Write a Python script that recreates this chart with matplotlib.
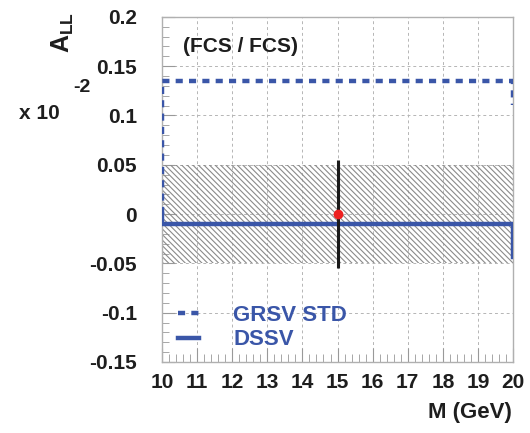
import matplotlib
matplotlib.use("Agg")
import matplotlib.pyplot as plt
from matplotlib.ticker import MultipleLocator
from matplotlib.lines import Line2D

plt.rcParams['font.family'] = ['Liberation Sans', 'DejaVu Sans']
plt.rcParams['font.weight'] = 'bold'
plt.rcParams['mathtext.default'] = 'regular'
plt.rcParams['hatch.linewidth'] = 0.8
plt.rcParams['hatch.color'] = '#8a8a8a'

# Data
bin_edges = [10, 20]
grsv_x = [10, 10, 20, 20]
grsv_y = [0.0, 0.135, 0.135, 0.111]
dssv_x = [10, 10, 20, 20]
dssv_y = [0.0, -0.01, -0.01, -0.044]
band_low, band_high = -0.05, 0.05
point_x = [15]
point_y = [0.0]
point_err = [0.055]
xticks = list(range(10, 21))
yticks = [-0.15, -0.1, -0.05, 0, 0.05, 0.1, 0.15, 0.2]
ytick_labels = ['-0.15', '-0.1', '-0.05', '0', '0.05', '0.1', '0.15', '0.2']

blue = '#3a56a8'

fig = plt.figure(figsize=(5.3, 4.33), dpi=100)
ax = fig.add_axes([0.3057, 0.164, 0.6623, 0.797])

ax.set_xlim(10, 20)
ax.set_ylim(-0.15, 0.2)

# hatched band
ax.fill_between(bin_edges, [band_low]*2, [band_high]*2, facecolor='none',
                edgecolor='#8a8a8a', hatch='\\\\\\\\\\\\', linewidth=0, zorder=1)

ax.plot(grsv_x, grsv_y, color=blue, lw=3.2, linestyle=(0, (1.6, 1.4)), zorder=3,
        dash_capstyle='butt')
ax.plot(dssv_x, dssv_y, color=blue, lw=3.2, zorder=3)

ax.errorbar(point_x, point_y, yerr=point_err, fmt='none', ecolor='#1a1a1a',
            elinewidth=2.2, capsize=0, zorder=4)
ax.plot(point_x, point_y, 'o', color='#ee2222', ms=6, zorder=5)

# ticks
ax.set_xticks(xticks)
ax.set_yticks(yticks)
ax.set_yticklabels(ytick_labels)
ax.xaxis.set_minor_locator(MultipleLocator(0.2))
ax.yaxis.set_minor_locator(MultipleLocator(0.01))
ax.tick_params(axis='both', which='both', direction='in', colors='#999999',
               labelcolor='#1e1e1e', labelsize=15, top=False, right=False)
ax.tick_params(axis='y', which='major', length=9, pad=18)
ax.tick_params(axis='y', which='minor', length=5)
ax.tick_params(axis='x', which='major', length=10, pad=8)
ax.tick_params(axis='x', which='minor', length=6)
for lab in ax.get_xticklabels() + ax.get_yticklabels():
    lab.set_fontweight('bold')

for sp in ax.spines.values():
    sp.set_color('#b0b0b0')
    sp.set_linewidth(1.0)

ax.grid(True, which='major', color='#b5b5b5', linestyle=(0, (3, 3)), linewidth=0.7)
ax.set_axisbelow(True)

# texts
ax.text(0.06, 0.915, '(FCS / FCS)', transform=ax.transAxes, fontsize=15,
        fontweight='bold', color='#1e1e1e', va='center', ha='left')
fig.text(0.118, 0.925, r'$A_{LL}$', rotation=90, fontsize=18, fontweight='bold',
         color='#1e1e1e', ha='center', va='center')
fig.text(0.035, 0.738, 'x 10', fontsize=15, fontweight='bold', color='#1e1e1e',
         ha='left', va='center')
fig.text(0.138, 0.797, '-2', fontsize=14, fontweight='bold', color='#1e1e1e',
         ha='left', va='center')
fig.text(0.965, 0.048, 'M (GeV)', fontsize=16, fontweight='bold', color='#1e1e1e',
         ha='right', va='center')

handles = [Line2D([], [], color=blue, lw=3.2, linestyle=(0, (1.6, 1.4))),
           Line2D([], [], color=blue, lw=3.2)]
leg = ax.legend(handles, ['GRSV STD', 'DSSV'], loc='lower left',
                bbox_to_anchor=(0.012, 0.0), borderaxespad=0.12, frameon=False,
                handlelength=0.95, handletextpad=1.55, labelspacing=0.15,
                prop={'weight': 'bold', 'size': 16})
for t in leg.get_texts():
    t.set_color(blue)

fig.savefig('out.png', dpi=100)
